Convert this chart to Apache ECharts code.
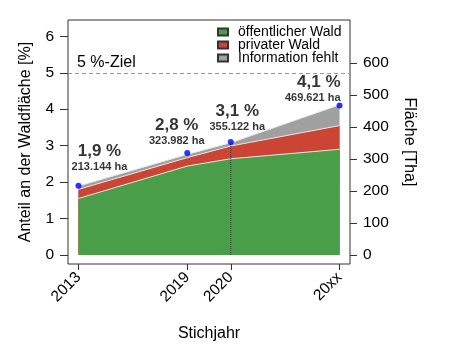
<!DOCTYPE html>
<html>
<head>
<meta charset="utf-8">
<script src="https://cdn.jsdelivr.net/npm/echarts@6/dist/echarts.min.js"></script>
<style>html,body{margin:0;padding:0;background:#fff}#c{width:454px;height:357px}</style>
</head>
<body>
<div id="c"></div>
<script>
// ---- data ----
const years = ['2013', '2019', '2020', '20xx'];
const xPos = [0, 2.5, 3.5, 6];               // data coordinate of each Stichjahr
const oeffentlich = [1.55, 2.44, 2.64, 2.90]; // % share, öffentlicher Wald
const privat = [0.25, 0.23, 0.35, 0.65];      // % share, privater Wald
const fehlt = [0.09, 0.09, 0.09, 0.57];       // % share, Information fehlt
const totalPct = [1.9, 2.8, 3.1, 4.1];
const pctLabels = ['1,9 %', '2,8 %', '3,1 %', '4,1 %'];
const haLabels = ['213.144 ha', '323.982 ha', '355.122 ha', '469.621 ha'];
const leftTicks = [0, 1, 2, 3, 4, 5, 6];
const rightTicks = [0, 100, 200, 300, 400, 500, 600];
const zielValue = 5;
const thaPerPct = 114;

// ---- styles (not data) ----
const FONT = 'Liberation Sans, Arial, sans-serif';
const labelLayout = [
  { align: 'center', offset: [21, -9] },
  { align: 'center', offset: [-10.5, -2.5] },
  { align: 'center', offset: [6.5, -6] },
  { align: 'right', offset: [1, 1.5] }
];
const yMin = -0.248, yMax = 6.448;

// cumulative tops for the stacked areas
const cum1 = oeffentlich.slice();
const cum2 = cum1.map((v, i) => v + privat[i]);
const cum3 = cum2.map((v, i) => v + fehlt[i]);
const pair = (arr) => arr.map((v, i) => [xPos[i], v]);

const chart = echarts.init(document.getElementById('c'));
const areaSeries = (name, vals, color, z) => ({
  name, type: 'line', data: pair(vals),
  symbol: 'none', smooth: false,
  lineStyle: { color: '#e8e8e8', width: 1 },
  areaStyle: { color, opacity: 1, origin: 0 },
  itemStyle: { color, borderColor: '#333', borderWidth: 1 },
  z
});

chart.setOption({
  animation: false,
  textStyle: { fontFamily: FONT },
  grid: { left: 68, top: 20, width: 282, height: 244, show: true, borderColor: '#333', borderWidth: 1, backgroundColor: 'transparent', outerBoundsMode: 'none' },
  legend: {
    left: 212, top: 20, orient: 'vertical', itemWidth: 10, itemHeight: 7, itemGap: -1,
    icon: 'rect',
    textStyle: { fontSize: 14, color: '#000', lineHeight: 12, padding: [0, 0, 0, 5], fontFamily: FONT },
    data: ['öffentlicher Wald', 'privater Wald', 'Information fehlt']
  },
  xAxis: {
    type: 'value', min: -0.24, max: 6.24,
    axisLine: { show: false, onZero: false }, splitLine: { show: false },
    axisTick: { show: true, customValues: xPos, length: 6, lineStyle: { color: '#333' } },
    axisLabel: { customValues: xPos, rotate: 45, margin: 11, fontSize: 15.5, color: '#000',
      formatter: (v) => { const i = xPos.indexOf(v); return i >= 0 ? years[i] : ''; } },
    name: 'Stichjahr', nameLocation: 'middle', nameGap: 62,
    nameTextStyle: { fontSize: 16, color: '#000' }
  },
  yAxis: [{
    type: 'value', min: yMin, max: yMax,
    axisLine: { show: false, onZero: false }, splitLine: { show: false },
    axisTick: { show: true, customValues: leftTicks, length: 8, lineStyle: { color: '#333' } },
    axisLabel: { customValues: leftTicks, margin: 14, fontSize: 15.5, color: '#000' },
    name: 'Anteil an der Waldfläche [%]', nameLocation: 'middle', nameGap: 34,
    nameTextStyle: { fontSize: 16, color: '#000' }
  }, {
    type: 'value', min: yMin * thaPerPct, max: yMax * thaPerPct, position: 'right',
    axisLine: { show: false, onZero: false }, splitLine: { show: false },
    axisTick: { show: true, customValues: rightTicks, length: 7, lineStyle: { color: '#333' } },
    axisLabel: { customValues: rightTicks, margin: 13, fontSize: 15.5, color: '#000' },
    name: 'Fläche [Tha]', nameLocation: 'middle', nameGap: 51, nameRotate: -90,
    nameTextStyle: { fontSize: 16, color: '#000' }
  }],
  series: [
    areaSeries('öffentlicher Wald', cum1, '#4a9e4a', 4),
    areaSeries('privater Wald', cum2, '#cc4433', 3),
    areaSeries('Information fehlt', cum3, '#a0a0a0', 2),
    {
      name: 'ziel', type: 'line', data: [], silent: true,
      markLine: {
        silent: true, symbol: 'none',
        lineStyle: { color: '#999', type: [4, 3], width: 1 },
        label: { show: true, position: 'insideStartTop', formatter: '5 %-Ziel', fontSize: 16, color: '#000', distance: [9, 2] },
        data: [{ yAxis: zielValue }]
      }
    },
    {
      name: 'marker2020', type: 'line', symbol: 'none', silent: true,
      data: [[xPos[2], 0], [xPos[2], totalPct[2]]],
      lineStyle: { color: '#333', type: 'dotted', width: 1 }, z: 6
    },
    {
      name: 'punkte', type: 'scatter', symbol: 'circle', symbolSize: 6, z: 7,
      itemStyle: { color: '#0000ff' },
      data: totalPct.map((v, i) => ({
        value: [xPos[i], v],
        label: {
          show: true, position: 'top', distance: 0,
          align: labelLayout[i].align, offset: labelLayout[i].offset,
          formatter: pctLabels[i] + '\n{b|' + haLabels[i] + '}',
          fontSize: 17, fontWeight: 'bold', color: '#000', lineHeight: 18,
          rich: { b: { fontSize: 11, fontWeight: 'bold', color: '#000', lineHeight: 13 } }
        }
      }))
    }
  ]
});
</script>
</body>
</html>
